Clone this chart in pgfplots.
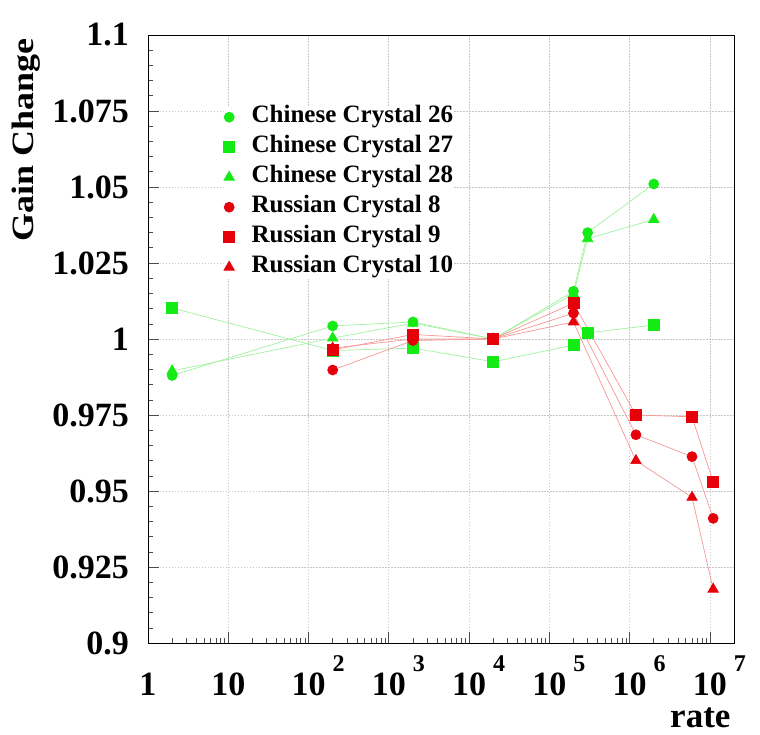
\documentclass[border=0pt]{standalone}
\usepackage{pgfplots}
\pgfplotsset{compat=1.18}
\usepackage{fontspec}
\setmainfont{Liberation Serif}
\usepackage{graphicx}

\definecolor{cgreen}{RGB}{20,235,20}
\definecolor{lgreen}{RGB}{160,242,160}
\definecolor{cred}{RGB}{230,0,10}
\definecolor{lred}{RGB}{246,150,150}

\newcommand{\tl}{\fontsize{34}{34}\selectfont\bfseries}
\newcommand{\ex}[1]{10\rlap{\hspace{7pt}\smash{\raisebox{24pt}{\fontsize{24}{24}\selectfont #1}}}}

\begin{document}
\begin{tikzpicture}
\useasboundingbox (-148pt,-91pt) rectangle (612pt,643pt);
\begin{axis}[
  scale only axis, width=586pt, height=608pt,
  xmode=log, xmin=1, xmax=2e7, ymin=0.9, ymax=1.1,
  xtick={1,10,100,1000,10000,100000,1000000,10000000},
  xticklabels={1,10,\ex{2},\ex{3},\ex{4},\ex{5},\ex{6},\ex{7}},
  minor xtick={2,3,4,5,6,7,8,9,20,30,40,50,60,70,80,90,200,300,400,500,600,700,800,900,2000,3000,4000,5000,6000,7000,8000,9000,2e4,3e4,4e4,5e4,6e4,7e4,8e4,9e4,2e5,3e5,4e5,5e5,6e5,7e5,8e5,9e5,2e6,3e6,4e6,5e6,6e6,7e6,8e6,9e6},
  ytick={0.9,0.925,0.95,0.975,1,1.025,1.05,1.075,1.1},
  yticklabels={0.9,0.925,0.95,0.975,1,1.025,1.05,1.075,1.1},
  minor y tick num=4,
  tick pos=left, tick align=inside,
  major tick length=11pt, minor tick length=5.5pt,
  every tick/.style={black!70, line width=0.6pt},
  xmajorgrids, ymajorgrids,
  major grid style={draw=black!22, line width=0.6pt, dash pattern=on 1.5pt off 1.5pt},
  axis line style={line width=0.8pt, black},
  xticklabel style={font=\tl, anchor=north, inner sep=0pt, yshift=-30pt},
  yticklabel style={font=\tl, anchor=east, inner sep=0pt, xshift=-19pt},
  ylabel={\scalebox{1.16}[1]{Gain Change}},
  ylabel style={font=\fontsize{31}{31}\selectfont\bfseries, at={(axis description cs:-0.1954,1)}, anchor=base east},
  xlabel={rate},
  xlabel style={font=\fontsize{35}{35}\selectfont\bfseries, at={(axis description cs:1,-0.1382)}, anchor=base east},
  legend style={draw=none, fill=white, inner sep=0pt, at={(axis description cs:0.1288,0.8840)}, anchor=north west,
    font=\fontsize{25}{25}\selectfont\bfseries, row sep=7pt, column sep=17pt,
    nodes={inner sep=0pt, text height=17pt, text depth=6pt}},
  legend cell align=left,
  legend image code/.code={\draw[#1, only marks] plot coordinates {(0pt,0pt)};},
]
\addplot[color=lgreen, line width=0.7pt, mark=*, mark size=5pt, mark options={draw=cgreen, fill=cgreen}] coordinates {
(2,0.988) (200,1.0043) (2000,1.0056) (20000,1.0) (200000,1.0157) (300000,1.035) (2000000,1.051)};
\addlegendentry{Chinese Crystal 26}
\addplot[color=lgreen, line width=0.7pt, mark=square*, mark size=5.5pt, mark options={draw=cgreen, fill=cgreen}] coordinates {
(2,1.0102) (200,0.9962) (2000,0.997) (20000,0.9925) (200000,0.998) (300000,1.002) (2000000,1.0046)};
\addlegendentry{Chinese Crystal 27}
\addplot[color=lgreen, line width=0.7pt, mark=triangle*, mark size=6pt, mark options={draw=cgreen, fill=cgreen}] coordinates {
(2,0.9895) (200,1.0003) (2000,1.0052) (20000,1.0) (200000,1.0148) (300000,1.033) (2000000,1.0393)};
\addlegendentry{Chinese Crystal 28}
\addplot[color=lred, line width=0.7pt, mark=*, mark size=5pt, mark options={draw=cred, fill=cred}] coordinates {
(200,0.9898) (2000,0.9995) (20000,1.0) (200000,1.0085) (1200000,0.9685) (6000000,0.9613) (11000000,0.941)};
\addlegendentry{Russian Crystal 8}
\addplot[color=lred, line width=0.7pt, mark=square*, mark size=5.5pt, mark options={draw=cred, fill=cred}] coordinates {
(200,0.9964) (2000,1.0015) (20000,1.0) (200000,1.0118) (1200000,0.975) (6000000,0.9744) (11000000,0.953)};
\addlegendentry{Russian Crystal 9}
\addplot[color=lred, line width=0.7pt, mark=triangle*, mark size=6pt, mark options={draw=cred, fill=cred}] coordinates {
(200,0.997) (2000,1.0) (20000,1.0) (200000,1.0056) (1200000,0.960) (6000000,0.9479) (11000000,0.9177)};
\addlegendentry{Russian Crystal 10}
\end{axis}
\end{tikzpicture}
\end{document}
